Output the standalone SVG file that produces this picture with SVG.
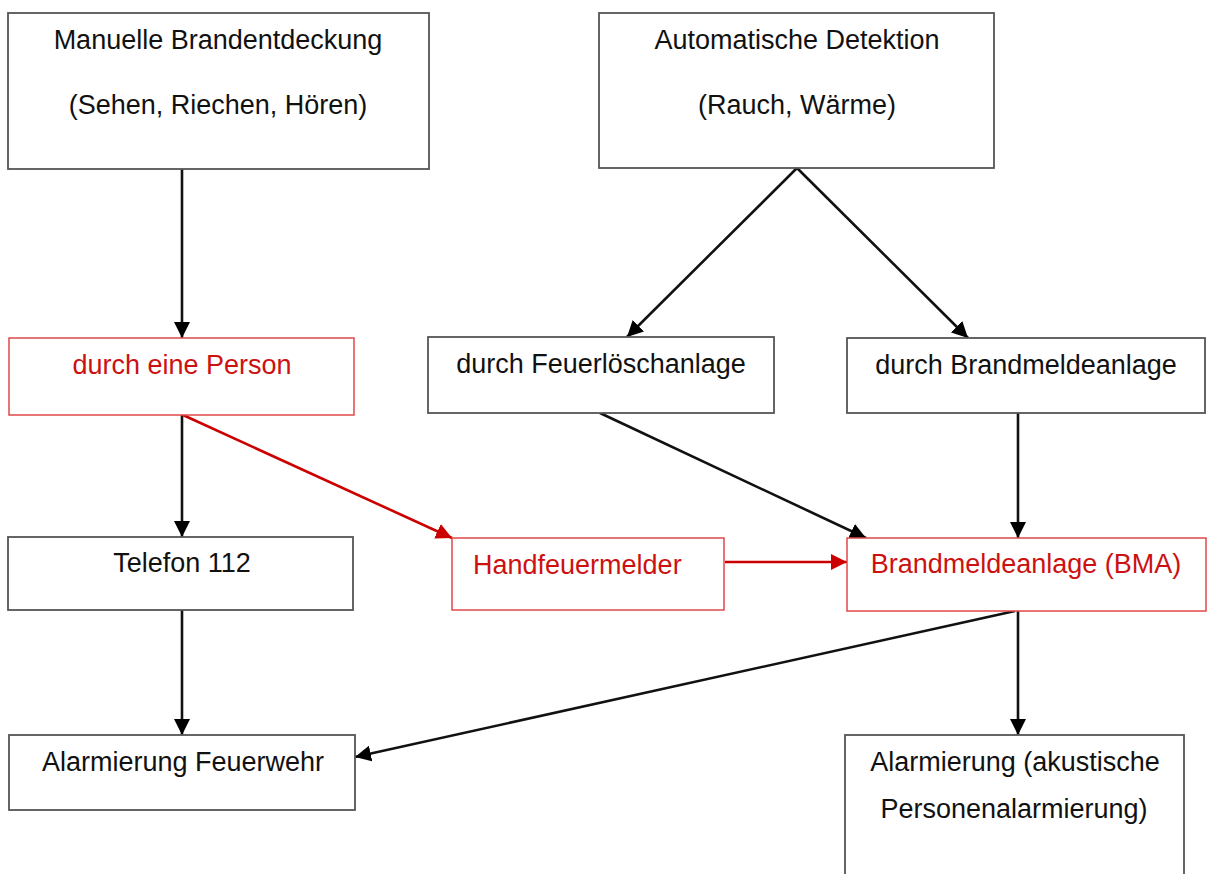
<svg xmlns="http://www.w3.org/2000/svg" width="1211" height="874" viewBox="0 0 1211 874">
<style>
.box{fill:#fff;stroke:#555;stroke-width:1.8}
.rbox{fill:#fff;stroke:#e04848;stroke-width:1.5}
text{font-family:"Liberation Sans",Arial,sans-serif;font-size:27px;fill:#111}
.c{text-anchor:middle}
.r{fill:#cc1111}
.ln{stroke:#111;stroke-width:2.6;fill:none}
.rl{stroke:#cc0000;stroke-width:2.6;fill:none}
</style>
<defs>
<marker id="ab" markerUnits="userSpaceOnUse" markerWidth="16" markerHeight="16" refX="16" refY="8" orient="auto">
<path d="M0,0 L16,8 L0,16 z" fill="#000"/>
</marker>
<marker id="ar" markerUnits="userSpaceOnUse" markerWidth="16" markerHeight="16" refX="16" refY="8" orient="auto">
<path d="M0,0 L16,8 L0,16 z" fill="#cc0000"/>
</marker>
</defs>
<rect width="1211" height="874" fill="#fff"/>
<g id="connectors">
<line class="ln" x1="182" y1="169" x2="182" y2="338" marker-end="url(#ab)"/>
<line class="ln" x1="182" y1="415" x2="182" y2="537" marker-end="url(#ab)"/>
<line class="ln" x1="182" y1="610" x2="182" y2="735" marker-end="url(#ab)"/>
<line class="rl" x1="183" y1="415" x2="452" y2="538" marker-end="url(#ar)"/>
<line class="ln" x1="797" y1="168" x2="627" y2="337" marker-end="url(#ab)"/>
<line class="ln" x1="797" y1="168" x2="968" y2="338" marker-end="url(#ab)"/>
<line class="ln" x1="600" y1="413" x2="866" y2="538" marker-end="url(#ab)"/>
<line class="ln" x1="1018" y1="413" x2="1018" y2="538" marker-end="url(#ab)"/>
<line class="rl" x1="725" y1="562" x2="847" y2="562" marker-end="url(#ar)"/>
<line class="ln" x1="1015" y1="611" x2="355" y2="757" marker-end="url(#ab)"/>
<line class="ln" x1="1018" y1="611" x2="1018" y2="735" marker-end="url(#ab)"/>
</g>
<g id="n1"><rect class="box" x="8" y="13" width="421" height="156"/>
<text class="c" x="218" y="49">Manuelle Brandentdeckung</text>
<text class="c" x="218" y="114">(Sehen, Riechen, Hören)</text></g>
<g id="n2"><rect class="box" x="599" y="13" width="395" height="155"/>
<text class="c" x="797" y="49">Automatische Detektion</text>
<text class="c" x="797" y="114">(Rauch, Wärme)</text></g>
<g id="n3"><rect class="rbox" x="9" y="338" width="345" height="77"/>
<text class="c r" x="182" y="374">durch eine Person</text></g>
<g id="n4"><rect class="box" x="428" y="337" width="346" height="76"/>
<text class="c" x="601" y="373">durch Feuerlöschanlage</text></g>
<g id="n5"><rect class="box" x="847" y="338" width="358" height="75"/>
<text class="c" x="1026" y="374">durch Brandmeldeanlage</text></g>
<g id="n6"><rect class="box" x="8" y="537" width="345" height="73"/>
<text class="c" x="182" y="572">Telefon 112</text></g>
<g id="n7"><rect class="rbox" x="452" y="538" width="272" height="72"/>
<text class="r" x="473" y="574">Handfeuermelder</text></g>
<g id="n8"><rect class="rbox" x="847" y="538" width="359" height="73"/>
<text class="c r" x="1026" y="573">Brandmeldeanlage (BMA)</text></g>
<g id="n9"><rect class="box" x="9" y="735" width="346" height="75"/>
<text class="c" x="183" y="771">Alarmierung Feuerwehr</text></g>
<g id="n10"><rect class="box" x="845" y="735" width="339" height="170"/>
<text class="c" x="1015" y="771">Alarmierung (akustische</text>
<text class="c" x="1014" y="818">Personenalarmierung)</text></g>
</svg>
